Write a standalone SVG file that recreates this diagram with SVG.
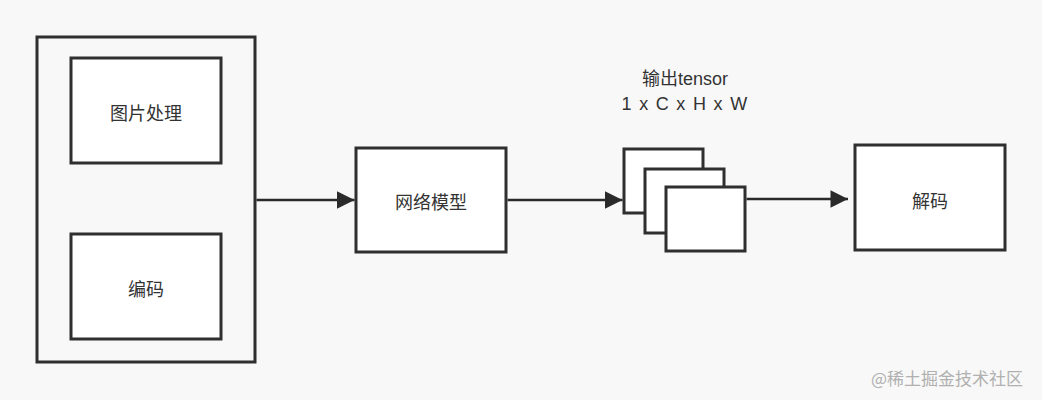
<svg xmlns="http://www.w3.org/2000/svg" width="1042" height="400" viewBox="0 0 1042 400">
<defs>
<style>
.box{fill:#ffffff;stroke:#2f2f2f;stroke-width:3}
.outer{fill:#f8f8f8;stroke:#2f2f2f;stroke-width:3}
.lbl{font-family:"Liberation Sans","Noto Sans CJK SC",sans-serif;font-size:18px;fill:#333;text-anchor:middle;dominant-baseline:central}
.edge{fill:none;stroke:#2a2a2a;stroke-width:2.5}
</style>
<marker id="arr" viewBox="0 0 10 10" refX="10" refY="5" markerWidth="9.4" markerHeight="7" markerUnits="strokeWidth" orient="auto">
<path d="M0,0 L10,5 L0,10 Z" fill="#2a2a2a"/>
</marker>
</defs>
<rect width="1042" height="400" fill="#f8f8f8"/>
<g id="input-group">
<rect class="outer" x="37" y="37" width="218" height="325"/>
</g>
<g id="image-processing">
<rect class="box" x="71" y="58" width="150" height="105"/>
<text class="lbl" x="146" y="114">图片处理</text>
</g>
<g id="encoding">
<rect class="box" x="71" y="234" width="150" height="105"/>
<text class="lbl" x="146" y="290">编码</text>
</g>
<g id="network-model">
<rect class="box" x="356" y="148" width="150" height="104"/>
<text class="lbl" x="431" y="203">网络模型</text>
</g>
<g id="output-tensor">
<rect class="box" x="624" y="149" width="79" height="64"/>
<rect class="box" x="645" y="169" width="79" height="64"/>
<rect class="box" x="666" y="187" width="79" height="64"/>
<text class="lbl" x="685" y="79" font-size="19">输出tensor</text>
<text class="lbl" x="685" y="104" letter-spacing="1.3">1 x C x H x W</text>
</g>
<g id="decode">
<rect class="box" x="855" y="145" width="150" height="105"/>
<text class="lbl" x="930" y="202">解码</text>
</g>
<g id="connectors">
<path class="edge" d="M256.5,200 H354.5" marker-end="url(#arr)"/>
<path class="edge" d="M507.5,200 H622.5" marker-end="url(#arr)"/>
<path class="edge" d="M746.5,199 H848" marker-end="url(#arr)"/>
</g>
<text x="947" y="377" font-family="'Noto Sans CJK SC',sans-serif" font-size="17" fill="#b0b0b0" text-anchor="middle" dominant-baseline="central">@稀土掘金技术社区</text>
</svg>
